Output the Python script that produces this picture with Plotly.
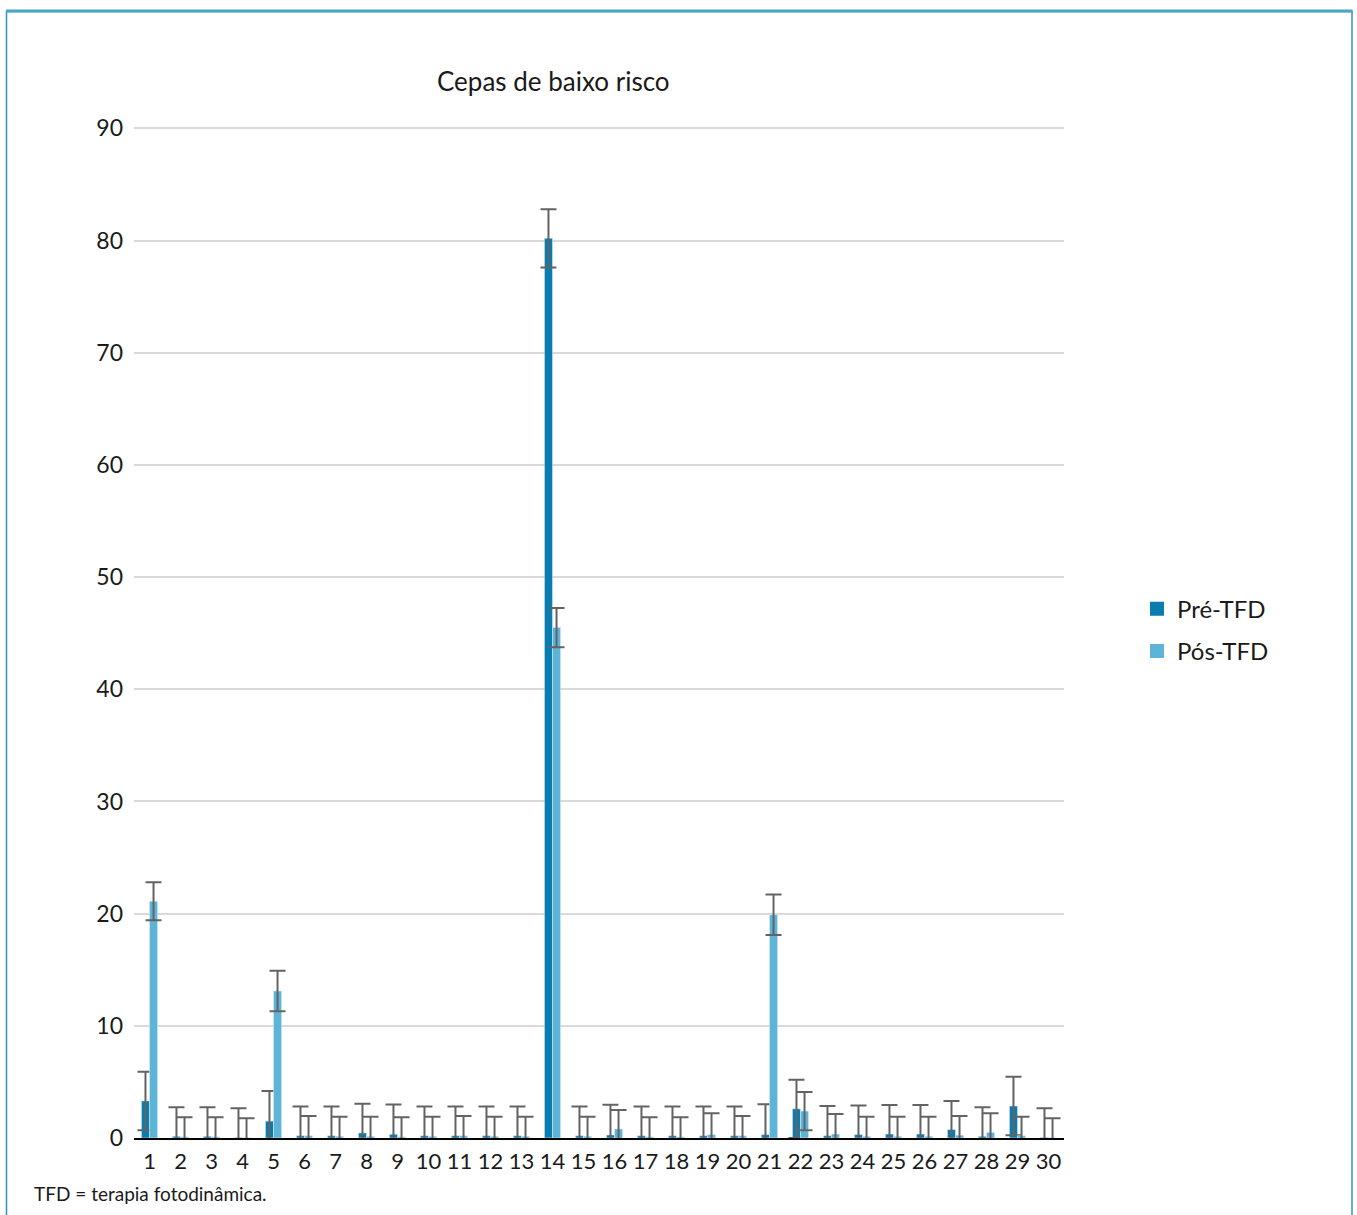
import plotly.graph_objects as go

categories = [str(i) for i in range(1, 31)]
pre_tfd = [3.3, 0.15, 0.15, 0.05, 1.5, 0.2, 0.2, 0.45, 0.33, 0.2,
           0.2, 0.2, 0.2, 80.2, 0.2, 0.27, 0.2, 0.2, 0.2, 0.2,
           0.3, 2.6, 0.2, 0.3, 0.35, 0.35, 0.75, 0.15, 2.85, 0.05]
pre_err = [2.6, 2.6, 2.6, 2.6, 2.7, 2.6, 2.6, 2.6, 2.65, 2.6,
           2.6, 2.6, 2.6, 2.6, 2.6, 2.7, 2.6, 2.6, 2.6, 2.6,
           2.7, 2.6, 2.65, 2.6, 2.6, 2.6, 2.55, 2.6, 2.6, 2.6]
pos_tfd = [21.1, 0.1, 0.1, 0.02, 13.1, 0.2, 0.15, 0.15, 0.1, 0.15,
           0.2, 0.15, 0.15, 45.5, 0.15, 0.8, 0.1, 0.1, 0.3, 0.2,
           19.9, 2.4, 0.35, 0.15, 0.15, 0.15, 0.25, 0.5, 0.2, 0.02]
pos_err = [1.7, 1.75, 1.75, 1.75, 1.8, 1.75, 1.75, 1.75, 1.75, 1.75,
           1.75, 1.75, 1.75, 1.75, 1.75, 1.7, 1.75, 1.75, 1.9, 1.75,
           1.8, 1.7, 1.8, 1.75, 1.75, 1.75, 1.7, 1.7, 1.7, 1.75]
y_ticks = [0, 10, 20, 30, 40, 50, 60, 70, 80, 90]
series_names = ["Pré-TFD", "Pós-TFD"]

PRE_COLOR = "#0a7db0"
POS_COLOR = "#5cb4d9"
ERR_COLOR = "#636363"
FONT = "Lato, 'Open Sans', sans-serif"

fig = go.Figure()
fig.add_trace(go.Bar(
    x=categories, y=pre_tfd, name=series_names[0], marker_color=PRE_COLOR, showlegend=False,
    error_y=dict(type="data", array=pre_err, visible=True,
                 color=ERR_COLOR, thickness=2, width=8),
))
fig.add_trace(go.Bar(
    x=categories, y=pos_tfd, name=series_names[1], marker_color=POS_COLOR, showlegend=False,
    error_y=dict(type="data", array=pos_err, visible=True,
                 color=ERR_COLOR, thickness=2, width=8),
))
# legend entries with square swatches
for nm, col, grp in [(series_names[0], PRE_COLOR, "a"), (series_names[1], POS_COLOR, "b")]:
    fig.add_trace(go.Scatter(
        x=[None], y=[None], mode="markers", name=nm, legendgroup=grp,
        marker=dict(symbol="square", size=14, color=col), showlegend=True,
    ))

W, H = 1357, 1215
YMAX = 90.3
unit = (1138 - 128) / 90.0
L, R, B = 134, 1064, 1138
T = B - YMAX * unit
pw, ph = R - L, B - T

def px(x):
    return (x - L) / pw

def py(y):
    return (B - y) / ph

fig.update_layout(
    width=W, height=H,
    margin=dict(l=L, r=W - R, t=T, b=H - B, autoexpand=False),
    paper_bgcolor="white", plot_bgcolor="white",
    barmode="group", bargap=0.48, bargroupgap=0,
    font=dict(family=FONT, color="#1a1a1a"),
    showlegend=True,
    legend=dict(x=px(1137), y=py(630), xanchor="left", yanchor="middle",
                font=dict(size=24, color="#1a1a1a"), tracegroupgap=8,
                traceorder="grouped", itemwidth=30, bgcolor="rgba(0,0,0,0)"),
    xaxis=dict(type="category", showline=True, linecolor="black", linewidth=2,
               showgrid=False, ticks="", tickfont=dict(size=22, color="#1a1a1a"),
               ticklabelstandoff=3),
    yaxis=dict(range=[0, YMAX], tickvals=y_ticks, showgrid=True, gridcolor="#d9d9d9",
               gridwidth=1.5, zeroline=False, showline=False, ticks="",
               tickfont=dict(size=23, color="#1a1a1a"), ticklabelstandoff=10),
    annotations=[
        dict(text="Cepas de baixo risco", x=px(553), y=py(81), xref="paper", yref="paper",
             xanchor="center", yanchor="middle", showarrow=False,
             font=dict(size=26, color="#1a1a1a", family=FONT)),
        dict(text="TFD = terapia fotodinâmica.", x=px(32), y=py(1194), xref="paper", yref="paper",
             xanchor="left", yanchor="middle", showarrow=False,
             font=dict(size=19, color="#1a1a1a", family=FONT)),
    ],
    shapes=[
        dict(type="rect", xref="paper", yref="paper", x0=px(6.5), x1=px(1352), y0=py(1240), y1=py(11),
             line=dict(color="#2f95c0", width=1.5), layer="above"),
        dict(type="line", xref="paper", yref="paper", x0=px(6), x1=px(1352.5), y0=py(10.5), y1=py(10.5),
             line=dict(color="#4aa5cb", width=3), layer="above"),
    ],
)

fig.write_html("out.html", config={"displayModeBar": False},
               post_script="document.body.style.margin='0px';")
